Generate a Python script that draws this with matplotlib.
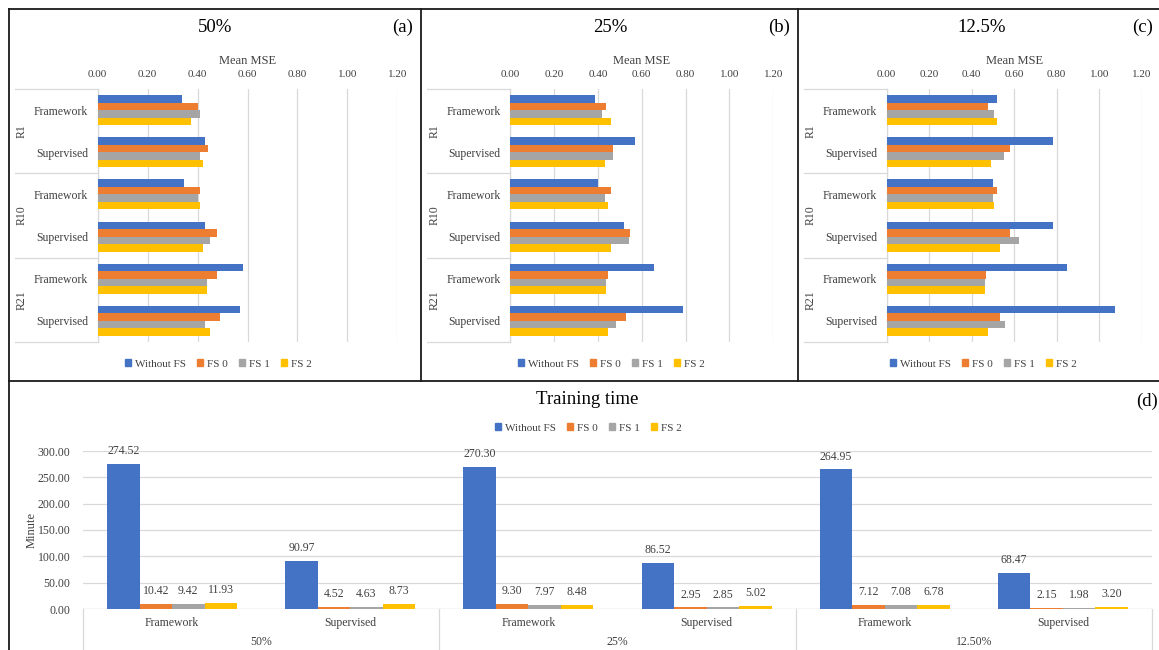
import matplotlib
matplotlib.use('Agg')
import matplotlib.pyplot as plt
from matplotlib.lines import Line2D
from matplotlib.patches import Patch
from matplotlib.ticker import FormatStrFormatter
import numpy as np

# =========================================================
# DATA
# =========================================================

SERIES = ['Without FS', 'FS 0', 'FS 1', 'FS 2']
COLORS = ['#4472C4', '#ED7D31', '#A5A5A5', '#FFC000']

RUNS = ['R1', 'R10', 'R21']
METHODS = ['Framework', 'Supervised']

# mean MSE, rows = series, cols = R1 Fw, R1 Sup, R10 Fw, R10 Sup, R21 Fw, R21 Sup
mse_50 = [
    [0.337, 0.430, 0.347, 0.430, 0.580, 0.569],
    [0.400, 0.440, 0.410, 0.479, 0.479, 0.488],
    [0.410, 0.410, 0.400, 0.449, 0.439, 0.430],
    [0.372, 0.420, 0.410, 0.420, 0.439, 0.449],
]
mse_25 = [
    [0.386, 0.568, 0.398, 0.518, 0.656, 0.788],
    [0.436, 0.468, 0.458, 0.545, 0.447, 0.530],
    [0.420, 0.468, 0.430, 0.541, 0.435, 0.480],
    [0.458, 0.430, 0.447, 0.458, 0.435, 0.447],
]
mse_12 = [
    [0.520, 0.783, 0.502, 0.783, 0.850, 1.072],
    [0.479, 0.581, 0.520, 0.581, 0.468, 0.531],
    [0.507, 0.554, 0.502, 0.622, 0.461, 0.559],
    [0.520, 0.490, 0.507, 0.531, 0.461, 0.479],
]

# training time in minutes, cols = 50% Fw, 50% Sup, 25% Fw, 25% Sup, 12.5% Fw, 12.5% Sup
time_min = [
    [274.52, 90.97, 270.30, 86.52, 264.95, 68.47],
    [10.42, 4.52, 9.30, 2.95, 7.12, 2.15],
    [9.42, 4.63, 7.97, 2.85, 7.08, 1.98],
    [11.93, 8.73, 8.48, 5.02, 6.78, 3.20],
]
time_groups = ['50%', '25%', '12.50%']

# =========================================================
# FIGURE
# =========================================================

plt.rcParams['font.family'] = ['Liberation Serif', 'DejaVu Serif']
W, H = 1159, 650
fig = plt.figure(figsize=(W / 100, H / 100), dpi=100)

TXT = '#404040'
GRID = '#d9d9d9'


def box(l, t, r, b):
    return [l / W, 1 - b / H, (r - l) / W, (b - t) / H]


def fline(x0, y0, x1, y1, **kw):
    fig.add_artist(Line2D([x0 / W, x1 / W], [1 - y0 / H, 1 - y1 / H],
                          transform=fig.transFigure, **kw))


# ---------------------------------------------------------
# top row: mean MSE panels
# ---------------------------------------------------------

panels = [
    ('50%', '(a)', mse_50, 97.7, 397.3, 15, 22, 215, 403, 218),
    ('25%', '(b)', mse_25, 510.3, 773.3, 427, 435, 610, 779, 611),
    ('12.5%', '(c)', mse_12, 886.7, 1141.7, 804, 811, 982, 1143, 983),
]

TOP, BOT = 89, 342
bh = 0.178
ypos = np.arange(6)

for title, tag, data, left, right, cat_left, r_x, title_x, tag_x, leg_x in panels:
    ax = fig.add_axes(box(left, TOP, right, BOT))
    for i, vals in enumerate(data):
        ax.barh(ypos + (i - 1.5) * bh, vals, height=bh, color=COLORS[i],
                label=SERIES[i], zorder=3)
    ax.set_xlim(0, 1.2)
    ax.set_ylim(5.5, -0.5)
    ax.set_xticks(np.arange(0, 1.21, 0.2))
    ax.xaxis.set_major_formatter(FormatStrFormatter('%.2f'))
    ax.xaxis.tick_top()
    ax.tick_params(axis='x', length=0, pad=7, labelsize=8, labelcolor=TXT)
    ax.grid(axis='x', color=GRID, lw=0.9, zorder=0)
    for s in ax.spines.values():
        s.set_visible(False)

    ax.set_yticks(ypos)
    ax.set_yticklabels(METHODS * 3)
    ax.tick_params(axis='y', length=0, pad=7, labelsize=8.5, labelcolor=TXT)

    # category table lines
    tr = ax.get_yaxis_transform()
    x0 = (cat_left - left) / (right - left)
    for yb in [-0.5, 1.5, 3.5, 5.5]:
        ax.plot([x0, 0], [yb, yb], color=GRID, lw=0.9, transform=tr, clip_on=False)
    ax.plot([0, 0], [-0.5, 5.5], color=GRID, lw=0.9, transform=tr, clip_on=False)
    xr = (r_x - left) / (right - left)
    for k, run in enumerate(RUNS):
        ax.text(xr, 2 * k + 0.5, run, rotation=90, ha='center', va='center',
                fontsize=8.5, color=TXT, transform=tr)

    fig.text(title_x / W, 1 - 27 / H, title, ha='center', va='center', fontsize=13.5)
    fig.text(tag_x / W, 1 - 27 / H, tag, ha='center', va='center', fontsize=13.5)
    fig.text((left + right) / 2 / W, 1 - 61 / H, 'Mean MSE', ha='center',
             va='center', fontsize=9, color=TXT)

    handles = [Patch(color=c) for c in COLORS]
    fig.legend(handles, SERIES, loc='center', bbox_to_anchor=(leg_x / W, 1 - 364 / H),
               ncol=4, frameon=False, fontsize=8, handlelength=0.6, handleheight=0.6,
               handletextpad=0.3, columnspacing=1.0, labelcolor=TXT)

# ---------------------------------------------------------
# bottom row: training time
# ---------------------------------------------------------

axd = fig.add_axes(box(83, 451, 1152, 609))
bw = 0.1826
xpos = np.arange(6)
for i, vals in enumerate(time_min):
    bars = axd.bar(xpos + (i - 1.5) * bw, vals, width=bw, color=COLORS[i],
                   label=SERIES[i], zorder=3)
    for b, v in zip(bars, vals):
        axd.annotate(f'{v:.2f}', (b.get_x() + b.get_width() / 2, v),
                     xytext=(0, 5), textcoords='offset points', ha='center',
                     va='bottom', fontsize=8.5, color=TXT)

axd.set_xlim(-0.5, 5.5)
axd.set_ylim(0, 300)
axd.set_yticks(np.arange(0, 301, 50))
axd.yaxis.set_major_formatter(FormatStrFormatter('%.2f'))
axd.tick_params(axis='y', length=0, pad=9, labelsize=8.5, labelcolor=TXT)
axd.grid(axis='y', color=GRID, lw=0.9, zorder=0)
for s in axd.spines.values():
    s.set_visible(False)
axd.axhline(0, color=GRID, lw=0.9, zorder=2)
fig.text(32 / W, 1 - 530 / H, 'Minute', rotation=90, ha='center', va='center',
         fontsize=9, color=TXT)

axd.set_xticks(xpos)
axd.set_xticklabels(METHODS * 3)
axd.tick_params(axis='x', length=0, pad=6, labelsize=8.5, labelcolor=TXT)

trd = axd.get_xaxis_transform()
for xb in [-0.5, 1.5, 3.5, 5.5]:
    axd.plot([xb, xb], [0, -0.3], color=GRID, lw=0.9, transform=trd, clip_on=False)
for k, g in enumerate(time_groups):
    axd.text(2 * k + 0.5, -0.21, g, ha='center', va='center', fontsize=8.5,
             color=TXT, transform=trd)

fig.text(587 / W, 1 - 400 / H, 'Training time', ha='center', va='center', fontsize=13.5)
fig.text(1147 / W, 1 - 401 / H, '(d)', ha='center', va='center', fontsize=13.5)
fig.legend([Patch(color=c) for c in COLORS], SERIES, loc='center',
           bbox_to_anchor=(588 / W, 1 - 428 / H), ncol=4, frameon=False,
           fontsize=8, handlelength=0.6, handleheight=0.6, handletextpad=0.3,
           columnspacing=1.0, labelcolor=TXT)

# ---------------------------------------------------------
# panel frames
# ---------------------------------------------------------

fk = dict(color='#1a1a1a', lw=1.3)
fline(9, 9, 9, 650, **fk)
fline(9, 9, 1159, 9, **fk)
fline(420.5, 9, 420.5, 380.5, **fk)
fline(798, 9, 798, 380.5, **fk)
fline(9, 380.5, 1159, 380.5, **fk)

fig.savefig('out.png', dpi=100)
